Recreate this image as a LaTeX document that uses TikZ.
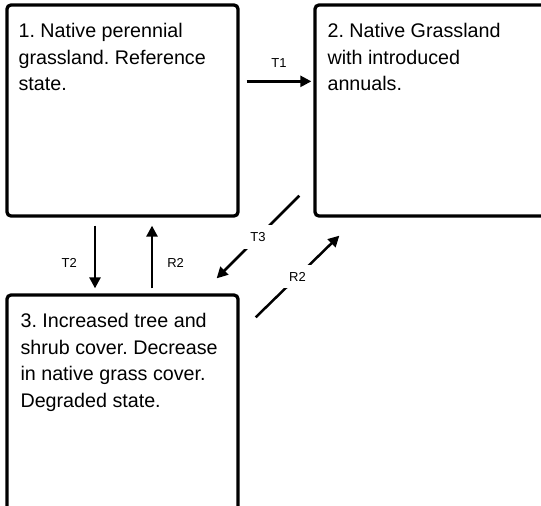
\documentclass[tikz,border=0pt]{standalone}
\usepackage{fontspec}
\setmainfont{Liberation Sans}
\usetikzlibrary{arrows.meta, positioning, calc}
\definecolor{mainBlack}{gray}{0}
\frenchspacing

\begin{document}
\begin{tikzpicture}[x=1pt, y=1pt,
    state/.style={draw=mainBlack, line width=3.3pt, rounded corners=4pt, inner sep=0pt},
    statetext/.style={anchor=north west, inner sep=0pt, align=left, text=mainBlack, font=\fontsize{19.7}{26.5}\selectfont},
    arr/.style={draw=mainBlack, line width=2.5pt, -{Triangle[length=11pt, width=11pt]}},
    lbl/.style={font=\fontsize{13}{15}\selectfont, inner sep=0pt},
    gap/.style={lbl, fill=white, inner sep=7pt}]
    \clip (0,0) rectangle (541,-506);
    \node[state, minimum width=231pt, minimum height=211pt] (s1) at (122.5,-110.5) {};
    \node[state, minimum width=240pt, minimum height=211pt] (s2) at (435,-110.5) {};
    \node[state, minimum width=231pt, minimum height=240pt] (s3) at (122.5,-415) {};
    \node[statetext, below right=20pt and 13pt of s1.north west] (t1) {1. Native perennial\\grassland. Reference\\state.};
    \node[statetext, below right=20pt and 14pt of s2.north west] (t2) {2. Native Grassland\\with introduced\\annuals.};
    \node[statetext, below right=20pt and 15pt of s3.north west] (t3) {3. Increased tree and\\shrub cover. Decrease\\in native grass cover.\\Degraded state.};
    \draw[arr] ($(s1.north east)+(7,-78)$) -- ($(s2.north west)+(-2,-78)$) node[lbl, midway, above=13pt] (l1) {T1};
    \draw[arr] ($(s1.south)+(-27.5,-8)$) -- ($(s3.north)+(-27.5,5)$) node[lbl, pos=0.6, left=17pt] (l2) {T2};
    \draw[arr] ($(s3.north)+(29.5,5)$) -- ($(s1.south)+(29.5,-8)$) node[lbl, pos=0.4, right=14pt] (l3) {R2};
    \draw[arr] ($(s2.south west)+(-14,22)$) -- ($(s3.north east)+(-23,15)$) node[gap, midway] (l4) {T3};
    \draw[arr] ($(s3.north east)+(16,-24)$) -- ($(s2.south west)+(26,-18)$) node[gap, midway] (l5) {R2};
\end{tikzpicture}
\end{document}
